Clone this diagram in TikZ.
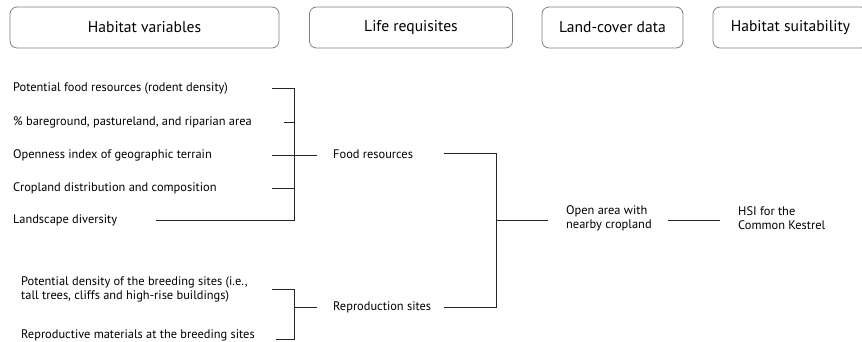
\documentclass[tikz,border=0pt]{standalone}
\usepackage{xcolor}
\usepackage{fontspec}
\setmainfont{PT Sans}
\usetikzlibrary{positioning}

\begin{document}
\begin{tikzpicture}[x=1pt, y=-1pt,
    header/.style={draw=black!50, rounded corners=7pt, line width=0.8pt,
        minimum height=41pt, inner sep=0pt, font=\fontsize{15.6}{18}\selectfont},
    item/.style={anchor=west, inner sep=0pt, align=left,
        font=\fontsize{12.4}{14}\selectfont},
    link/.style={draw=black!85, line width=0.9pt}]
    \useasboundingbox (0,0) rectangle (862,342);

    % Column headings
    \node[header, minimum width=269pt] (hvar) at (144.5,27.5) {Habitat variables};
    \node[header, minimum width=203pt] (hreq) at (411,27.5) {Life requisites};
    \node[header, minimum width=141pt] (hland) at (612.5,27.5) {Land-cover data};
    \node[header, minimum width=155pt] (hsuit) at (790.5,27.5) {Habitat suitability};

    % Habitat variables
    \node[item] (v1) at (13,88) {Potential food resources (rodent density)};
    \node[item] (v2) at (13,122.5) {\% bareground, pastureland, and riparian area};
    \node[item] (v3) at (13,155) {Openness index of geographic terrain};
    \node[item] (v4) at (13,188) {Cropland distribution and composition};
    \node[item] (v5) at (13,220) {Landscape diversity};
    \node[item] (b1) at (21,289) {Potential density of the breeding sites (i.e.,\\tall trees, cliffs and high-rise buildings)};
    \node[item] (b2) at (21,335) {Reproductive materials at the breeding sites};

    % Life requisites, land cover, suitability
    \node[item] (food) at (333,154) {Food resources};
    \node[item] (repro) at (333,307.5) {Reproduction sites};
    \node[item] (open) at (566,218) {Open area with\\nearby cropland};
    \node[item] (hsi) at (738,218) {HSI for the\\Common Kestrel};

    % Columns where the leads start and the brackets stand
    \coordinate (ls) at (272,0);
    \coordinate (bk) at (294,0);
    \coordinate (be) at (317,0);
    \coordinate (rs) at (444,0);
    \coordinate (rk) at (496,0);
    \coordinate (re) at (548,0);
    \coordinate (os) at (668,0);
    \coordinate (oe) at (720,0);

    % Bracket of the food variables
    \draw[link] (v1 -| ls) -- (v1 -| bk) -- (v5 -| bk) -- (v5 -| 156,0);
    \draw[link] (v2 -| 284,0) -- (v2 -| bk);
    \draw[link] (v3 -| ls) -- (v3 -| be);
    \draw[link] (v4 -| ls) -- (v4 -| bk);

    % Bracket of the breeding variables
    \draw[link] (b1 -| ls) -- (b1 -| bk) -- ([yshift=-4pt]b2 -| bk)
        -- ([yshift=-4pt]b2 -| 276,0);
    \draw[link] (repro -| bk) -- (repro -| be);

    % Bracket of the life requisites
    \draw[link] ([yshift=1pt]food -| rs) -- ([yshift=1pt]food -| rk)
        -- (repro -| rk) -- (repro -| rs);
    \draw[link] (rk |- v5) -- (re |- v5);

    % Land cover to suitability
    \draw[link] ([yshift=-2pt]open -| os) -- ([yshift=-2pt]open -| oe);
\end{tikzpicture}
\end{document}
